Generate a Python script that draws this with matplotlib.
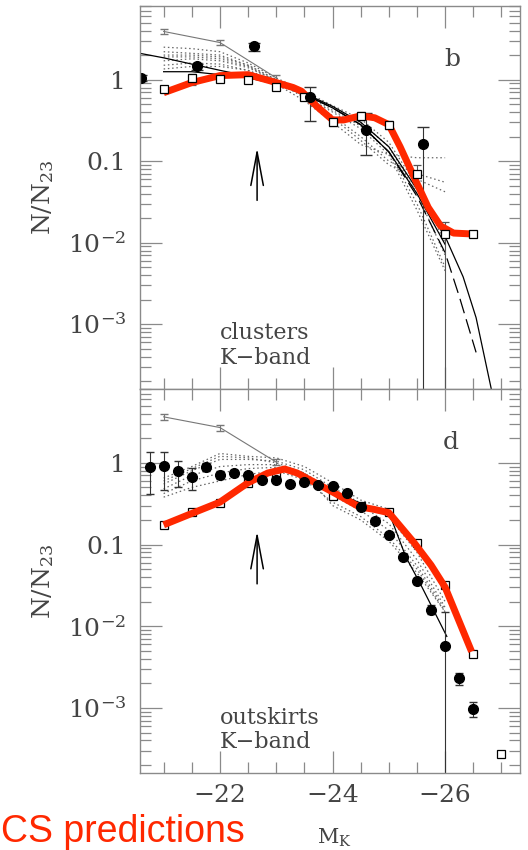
import matplotlib
matplotlib.use("Agg")
import matplotlib.pyplot as plt
import numpy as np
from matplotlib.ticker import FixedLocator, FixedFormatter, LogLocator, NullFormatter, MultipleLocator

plt.rcParams['font.family'] = ['DejaVu Serif']
plt.rcParams['mathtext.fontset'] = 'dejavuserif'

# ---------------- data: panel b (clusters) ----------------
b_circ_M = [-20.6, -21.6, -22.6, -23.6, -24.6, -25.6]
b_circ_N = [1.05, 1.45, 2.55, 0.62, 0.24, 0.16]
b_circ_lo = [0.08, 0.12, 0.3, 0.31, 0.12, 0.159999]
b_circ_hi = [0.08, 0.12, 0.3, 0.19, 0.15, 0.10]

b_sq_M = [-21.0, -21.5, -22.0, -22.5, -23.0, -23.5, -24.0, -24.5, -25.0, -25.5, -26.0, -26.5]
b_sq_N = [0.77, 1.05, 1.02, 1.0, 0.82, 0.62, 0.30, 0.36, 0.28, 0.07, 0.0128, 0.0128]
b_sq_lo = [0.05, 0.2, 0.06, 0.05, 0.05, 0.04, 0.03, 0.04, 0.03, 0.02, 0.0127999, 0.001]
b_sq_hi = [0.05, 0.12, 0.06, 0.05, 0.05, 0.04, 0.03, 0.04, 0.03, 0.02, 0.005, 0.001]

b_gray_M = [-21.0, -22.0, -23.0]
b_gray_N = [3.9, 2.85, 1.05]

b_red_M = [-21.0, -21.5, -22.0, -22.5, -23.0, -23.3, -23.45, -23.72, -24.0, -24.2, -24.5,
           -24.75, -25.0, -25.2, -25.47, -25.7, -25.92, -26.15, -26.45]
b_red_N = [0.69, 0.92, 1.12, 1.15, 0.92, 0.80, 0.72, 0.47, 0.32, 0.32, 0.36,
           0.34, 0.28, 0.15, 0.059, 0.027, 0.016, 0.0131, 0.0128]

b_dot_M = [-21.0, -21.5, -22.0, -22.5, -23.0, -23.5, -24.0, -24.5, -25.0, -25.5, -26.0]
b_dot_N = [
    [2.5, 2.4, 2.2, 1.6, 1.05, 0.72, 0.48, 0.33, 0.17, 0.05, 0.010],
    [2.0, 2.0, 1.9, 1.5, 1.00, 0.68, 0.45, 0.30, 0.15, 0.04, 0.007],
    [1.7, 1.8, 1.7, 1.4, 0.98, 0.65, 0.42, 0.27, 0.13, 0.03, 0.005],
    [1.5, 1.6, 1.55, 1.3, 0.95, 0.63, 0.40, 0.25, 0.12, 0.025, 0.0045],
    [2.2, 2.1, 2.0, 1.5, 1.00, 0.62, 0.36, 0.20, 0.10, 0.07, 0.055],
    [1.9, 1.9, 1.8, 1.45, 0.95, 0.60, 0.34, 0.18, 0.09, 0.06, 0.042],
    [1.35, 1.45, 1.45, 1.3, 0.88, 0.55, 0.30, 0.16, 0.12, 0.11, 0.11],
]

b_solA_M = [-20.58, -21.0, -21.5, -22.0, -22.5, -23.0, -23.5, -24.0, -24.5, -25.0, -25.5,
            -26.03, -26.32, -26.55, -26.82]
b_solA_N = [2.1, 1.85, 1.55, 1.3, 1.1, 0.9, 0.68, 0.47, 0.30, 0.15, 0.045,
            0.0107, 0.0038, 0.0012, 1.6e-4]
b_solB_M = [-21.0, -21.5, -22.0, -22.5, -23.0, -23.5, -24.0, -24.5, -25.0, -25.5, -26.0]
b_solB_N = [1.25, 1.25, 1.15, 1.05, 0.88, 0.66, 0.45, 0.28, 0.13, 0.04, 0.0095]
b_dash_M = [-23.0, -23.5, -24.0, -24.5, -25.0, -25.5, -26.0, -26.25, -26.55]
b_dash_N = [0.9, 0.66, 0.45, 0.28, 0.13, 0.037, 0.0075, 0.0022, 4.5e-4]

# ---------------- data: panel d (outskirts) ----------------
d_circ_M = [-20.75, -21.0, -21.25, -21.5, -21.75, -22.0, -22.25, -22.5, -22.75, -23.0,
            -23.25, -23.5, -23.75, -24.0, -24.25, -24.5, -24.75, -25.0, -25.25, -25.5,
            -25.75, -26.0, -26.25, -26.5]
d_circ_N = [0.89, 0.92, 0.80, 0.67, 0.89, 0.71, 0.76, 0.71, 0.62, 0.62,
            0.55, 0.58, 0.54, 0.52, 0.43, 0.29, 0.195, 0.13, 0.071, 0.036,
            0.016, 0.0058, 0.0023, 0.00098]
d_circ_lo = [0.48, 0.45, 0.30, 0.2, 0.1, 0.08, 0.06, 0.05, 0.04, 0.04,
             0.03, 0.03, 0.03, 0.03, 0.02, 0.015, 0.01, 0.008, 0.005, 0.003,
             0.002, 0.0057999, 0.0004, 0.0002]
d_circ_hi = [0.47, 0.44, 0.25, 0.2, 0.1, 0.08, 0.06, 0.05, 0.04, 0.04,
             0.03, 0.03, 0.03, 0.03, 0.02, 0.015, 0.01, 0.008, 0.005, 0.003,
             0.002, 0.009, 0.0004, 0.0002]

d_sq_M = [-21.0, -21.5, -22.0, -22.5, -23.0, -23.5, -24.0, -24.5, -25.0, -25.5, -26.0, -26.5, -27.0]
d_sq_N = [0.174, 0.25, 0.32, 0.57, 0.72, 0.6, 0.39, 0.30, 0.25, 0.105, 0.032, 0.0046, 2.7e-4]

d_gray_M = [-21.0, -22.0, -23.0]
d_gray_N = [3.65, 2.7, 1.02]

d_red_M = [-21.0, -21.5, -22.0, -22.5, -22.85, -23.15, -23.37, -24.0, -24.47, -24.73,
           -25.0, -25.45, -25.75, -26.0, -26.47]
d_red_N = [0.174, 0.24, 0.33, 0.57, 0.75, 0.84, 0.75, 0.44, 0.29, 0.27,
           0.245, 0.105, 0.056, 0.030, 0.0049]

d_dot_M = [-21.0, -21.5, -22.0, -22.5, -23.0, -23.5, -24.0, -24.5, -25.0, -25.5, -26.0]
d_dot_N = [
    [0.65, 0.9, 1.3, 1.2, 1.15, 0.9, 0.57, 0.35, 0.27, 0.10, 0.026],
    [0.55, 0.8, 1.1, 1.1, 1.05, 0.82, 0.50, 0.32, 0.22, 0.08, 0.020],
    [0.48, 0.7, 0.9, 0.95, 0.95, 0.75, 0.45, 0.30, 0.18, 0.065, 0.017],
    [0.42, 0.6, 0.75, 0.85, 0.88, 0.70, 0.40, 0.26, 0.15, 0.055, 0.016],
    [0.38, 0.5, 0.6, 0.72, 0.80, 0.62, 0.33, 0.22, 0.12, 0.05, 0.015],
    [0.6, 0.85, 1.2, 1.15, 1.0, 0.75, 0.30, 0.20, 0.11, 0.045, 0.015],
]
d_sol_M = [-24.0, -24.5, -25.02, -25.3, -25.55, -25.79, -26.03]
d_sol_N = [0.45, 0.32, 0.23, 0.071, 0.034, 0.016, 0.0075]

arrow_M = -22.66
arrow_tail, arrow_tip = 0.033, 0.145

xticks = [-22, -24, -26]
xticklabels = ['\u221222', '\u221224', '\u221226']
yticks = [1e-3, 1e-2, 0.1, 1]
yticklabels = ['$10^{-3}$', '$10^{-2}$', '0.1', '1']

RED = '#ff2800'
FRAME = '#8a8a8a'
TXT = '#444444'

fig = plt.figure(figsize=(5.28, 8.5), dpi=100)
L, W = 140 / 528, 380 / 528
ax1 = fig.add_axes([L, 1 - 389 / 850, W, 383 / 850])
ax2 = fig.add_axes([L, 1 - 773 / 850, W, 384 / 850])


def style(ax, show_x):
    ax.set_yscale('log')
    ax.set_xlim(-20.58, -27.33)
    ax.set_ylim(1.6e-4, 8.0)
    ax.xaxis.set_major_locator(FixedLocator(xticks))
    ax.xaxis.set_minor_locator(MultipleLocator(0.5))
    if show_x:
        ax.xaxis.set_major_formatter(FixedFormatter(xticklabels))
    else:
        ax.xaxis.set_major_formatter(NullFormatter())
    ax.yaxis.set_major_locator(FixedLocator(yticks))
    ax.yaxis.set_major_formatter(FixedFormatter(yticklabels))
    ax.yaxis.set_minor_locator(LogLocator(base=10, subs=np.arange(2, 10), numticks=20))
    ax.yaxis.set_minor_formatter(NullFormatter())
    ax.tick_params(which='both', direction='in', top=True, right=True, color=FRAME,
                   width=0.9, labelcolor=TXT, labelsize=18)
    ax.tick_params(which='major', length=16, pad=10)
    ax.tick_params(which='minor', length=8)
    ax.tick_params(axis='x', which='major', pad=8)
    for s in ax.spines.values():
        s.set_color(FRAME)
        s.set_linewidth(1.0)
    ax.set_ylabel('N/N$_{23}$', fontsize=18, color=TXT, labelpad=8)
    ax.annotate('', xy=(arrow_M, arrow_tip), xytext=(arrow_M, arrow_tail),
                arrowprops=dict(arrowstyle='->,head_length=2.4,head_width=0.45',
                                lw=1.1, color='black', mutation_scale=10,
                                shrinkA=0, shrinkB=0))


style(ax1, False)
style(ax2, True)

# ---- panel b ----
for curve in b_dot_N:
    ax1.plot(b_dot_M, curve, color='#666666', lw=0.9, ls=(0, (1.2, 2.2)))
ax1.plot(b_solA_M, b_solA_N, color='black', lw=0.9)
ax1.plot(b_solB_M, b_solB_N, color='black', lw=0.9)
ax1.plot(b_dash_M, b_dash_N, color='black', lw=0.9, ls=(0, (12, 5)))
ax1.errorbar(b_gray_M, b_gray_N, yerr=[[n * 0.08 for n in b_gray_N], [n * 0.08 for n in b_gray_N]],
             color='#777777', lw=0.8, capsize=3, elinewidth=0.8)
ax1.errorbar(b_sq_M, b_sq_N, yerr=[b_sq_lo, b_sq_hi], fmt='s', mfc='white', mec='black',
             ms=6, mew=0.9, ecolor='#555555', elinewidth=0.8, capsize=3)
ax1.errorbar(b_circ_M, b_circ_N, yerr=[b_circ_lo, b_circ_hi], fmt='o', color='black',
             ms=7, ecolor='#333333', elinewidth=0.8, capsize=4, clip_on=True)
ax1.plot(b_red_M, b_red_N, color=RED, lw=5, solid_capstyle='butt', solid_joinstyle='round')
ax1.text(-26.13, 1.76, 'b', fontsize=18, color=TXT, ha='center', va='center')
ax1.text(-22.0, 7.7e-4, 'clusters', fontsize=16, color=TXT, ha='left', va='center')
ax1.text(-22.0, 3.8e-4, 'K\u2212band', fontsize=16, color=TXT, ha='left', va='center')

# ---- panel d ----
for curve in d_dot_N:
    ax2.plot(d_dot_M, curve, color='#666666', lw=0.9, ls=(0, (1.2, 2.2)))
ax2.plot(d_sol_M, d_sol_N, color='black', lw=0.9)
ax2.errorbar(d_gray_M, d_gray_N, yerr=[[n * 0.08 for n in d_gray_N], [n * 0.08 for n in d_gray_N]],
             color='#777777', lw=0.8, capsize=3, elinewidth=0.8)
ax2.plot(d_sq_M, d_sq_N, 's', mfc='white', mec='black', ms=6, mew=0.9)
ax2.errorbar(d_circ_M, d_circ_N, yerr=[d_circ_lo, d_circ_hi], fmt='o', color='black',
             ms=7, ecolor='#333333', elinewidth=0.8, capsize=3)
ax2.plot(d_red_M, d_red_N, color=RED, lw=5, solid_capstyle='butt', solid_joinstyle='round')
ax2.text(-26.1, 1.76, 'd', fontsize=18, color=TXT, ha='center', va='center')
ax2.text(-22.0, 7.6e-4, 'outskirts', fontsize=16, color=TXT, ha='left', va='center')
ax2.text(-22.0, 3.85e-4, 'K\u2212band', fontsize=16, color=TXT, ha='left', va='center')

fig.text(317 / 528, 6 / 850, r'M$_\mathrm{K}$', fontsize=15, color=TXT, ha='left', va='baseline')
fig.text(0.002, 8 / 850, 'CS predictions', fontsize=27, color=RED, family='Liberation Sans',
         ha='left', va='baseline')

fig.savefig('out.png', dpi=100)
